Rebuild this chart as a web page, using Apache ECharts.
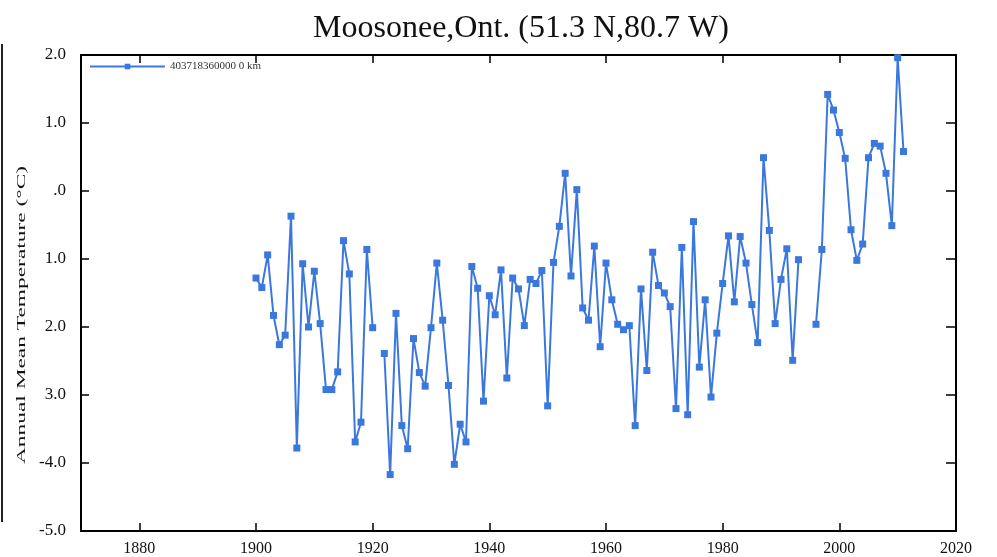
<!DOCTYPE html>
<html>
<head>
<meta charset="utf-8">
<script src="https://cdn.jsdelivr.net/npm/echarts@6/dist/echarts.min.js"></script>
<style>
  html, body { margin: 0; padding: 0; background: #fff; }
  #tempChart { width: 997px; height: 557px; }
</style>
</head>
<body>
<div id="tempChart"></div>
<script>
// annual mean temperature, station 403718360000 (Moosonee)
const years = [];
for (let y = 1900; y <= 2011; y++) years.push(y);

// null = no data that year
const temps = [
  -1.28, -1.42, -0.94, -1.83, -2.26, -2.12, -0.37, -3.78, -1.07, -2.00, // 1900s
  -1.18, -1.95, -2.92, -2.92, -2.66, -0.73, -1.22, -3.69, -3.40, -0.86, // 1910s
  -2.01, null, -2.39, -4.17, -1.80, -3.45, -3.79, -2.17, -2.67, -2.87,  // 1920s
  -2.01, -1.06, -1.90, -2.86, -4.02, -3.43, -3.69, -1.11, -1.43, -3.09, // 1930s
  -1.54, -1.82, -1.16, -2.75, -1.28, -1.44, -1.98, -1.30, -1.36, -1.17, // 1940s
  -3.16, -1.05, -0.52, 0.26, -1.25, 0.02, -1.72, -1.90, -0.81, -2.29,   // 1950s
  -1.06, -1.60, -1.96, -2.04, -1.98, -3.45, -1.44, -2.64, -0.90, -1.39, // 1960s
  -1.50, -1.70, -3.20, -0.83, -3.29, -0.45, -2.59, -1.60, -3.03, -2.09, // 1970s
  -1.36, -0.66, -1.63, -0.67, -1.06, -1.67, -2.23, 0.49, -0.58, -1.95,  // 1980s
  -1.30, -0.85, -2.49, -1.01, null, null, -1.96, -0.86, 1.42, 1.19,     // 1990s
  0.86, 0.48, -0.57, -1.02, -0.78, 0.49, 0.70, 0.66, 0.26, -0.51,       // 2000s
  1.96, 0.58
];

const xTicks = [1880, 1900, 1920, 1940, 1960, 1980, 2000, 2020];
const yTicks = [-5, -4, -3, -2, -1, 0, 1, 2];
// labels as printed on the original (minus signs lost in the scan)
const yLabels = ["-5.0", "-4.0", "3.0", "2.0", "1.0", ".0", "1.0", "2.0"];

const seriesName = "403718360000 0 km";

let chart = echarts.init(document.getElementById("tempChart"));

const serif = "Liberation Serif";
const lineColor = "#3b78de";

let data = years.map((y, i) => [y, temps[i] == null ? "-" : temps[i]]);

let option = {
  backgroundColor: "#fff",
  animation: false,
  graphic: [
    {
      type: "text",
      x: 521,
      y: 29,
      style: {
        text: "Moosonee,Ont. (51.3 N,80.7 W)",
        font: "32px 'Liberation Serif'",
        fill: "#111",
        align: "center",
        verticalAlign: "middle",
      },
    },
    {
      // y axis title, stretched like the scanned original
      type: "text",
      x: 22,
      y: 315,
      rotation: Math.PI / 2,
      scaleX: 1.8,
      style: {
        text: "Annual Mean Temperature (°C)",
        font: "13px 'Liberation Serif'",
        fill: "#111",
        align: "center",
        verticalAlign: "middle",
      },
    },
    {
      // edge of the neighbouring figure in the scan
      type: "line",
      shape: { x1: 2, y1: 44, x2: 2, y2: 522 },
      style: { stroke: "#222", lineWidth: 2 },
    },
  ],
  legend: {
    left: 84,
    top: 56,
    itemWidth: 75,
    itemHeight: 7,
    itemGap: 4,
    textStyle: {
      fontFamily: serif,
      fontSize: 11,
      color: "#333",
    },
    data: [seriesName],
  },
  grid: {
    left: 81,
    right: 41,
    top: 55,
    bottom: 26,
    containLabel: false,
  },
  xAxis: [
    {
      type: "value",
      min: 1870,
      max: 2020,
      axisLine: { show: true, onZero: false, lineStyle: { color: "#000", width: 2 } },
      axisTick: {
        inside: true,
        length: 8,
        customValues: xTicks.slice(0, -1),
        lineStyle: { color: "#000", width: 1.5 },
      },
      axisLabel: {
        customValues: xTicks,
        fontFamily: serif,
        fontSize: 16,
        color: "#111",
        margin: 10,
        formatter: function (value) {
          return String(value);
        },
      },
      splitLine: { show: false },
    },
    {
      type: "value",
      position: "top",
      min: 1870,
      max: 2020,
      axisLine: { show: true, onZero: false, lineStyle: { color: "#000", width: 2 } },
      axisTick: {
        inside: true,
        length: 8,
        customValues: xTicks.slice(0, -1),
        lineStyle: { color: "#000", width: 1.5 },
      },
      axisLabel: { show: false },
      splitLine: { show: false },
    },
  ],
  yAxis: [
    {
      type: "value",
      min: -5,
      max: 2,
      interval: 1,
      axisLine: { show: true, onZero: false, lineStyle: { color: "#000", width: 2 } },
      axisTick: { inside: true, length: 8, lineStyle: { color: "#000", width: 1.5 } },
      axisLabel: {
        fontFamily: serif,
        fontSize: 17,
        color: "#111",
        margin: 15,
        formatter: function (value) {
          let i = yTicks.indexOf(Math.round(value));
          return i >= 0 ? yLabels[i] : "";
        },
      },
      splitLine: { show: false },
    },
    {
      type: "value",
      position: "right",
      min: -5,
      max: 2,
      interval: 1,
      axisLine: { show: true, onZero: false, lineStyle: { color: "#000", width: 2 } },
      axisTick: { inside: true, length: 10, lineStyle: { color: "#000", width: 1.5 } },
      axisLabel: { show: false },
      splitLine: { show: false },
    },
  ],
  series: [
    {
      name: seriesName,
      type: "line",
      xAxisIndex: 0,
      yAxisIndex: 0,
      symbol: "rect",
      symbolSize: 7,
      connectNulls: false,
      itemStyle: { color: lineColor },
      lineStyle: { color: lineColor, width: 2 },
      data: data,
    },
  ],
};

chart.setOption(option);
</script>
</body>
</html>
